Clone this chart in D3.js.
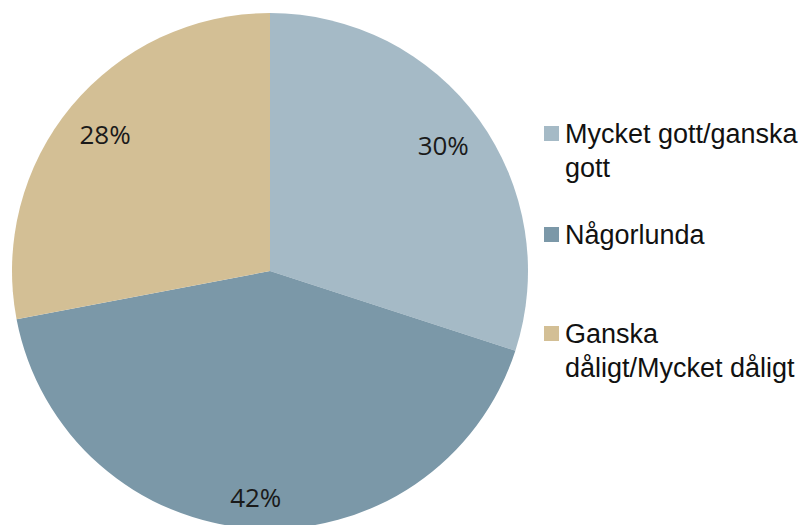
<!DOCTYPE html>
<html>
<head>
<meta charset="utf-8">
<script src="https://cdn.jsdelivr.net/npm/d3@7"></script>
<style>
  html, body { margin: 0; padding: 0; background: #fff; }
  svg { display: block; }
</style>
</head>
<body>
<svg id="chart" width="811" height="525"></svg>
<script>
// Pie of answers, clockwise from 12 o'clock
const categories = ['Mycket gott/ganska gott', 'Någorlunda', 'Ganska dåligt/Mycket dåligt'];
const values = [30, 42, 28];
const legendLines = [['Mycket gott/ganska', 'gott'], ['Någorlunda'], ['Ganska', 'dåligt/Mycket dåligt']];
const colors = ['#a5bac6', '#7b98a8', '#d3bf95'];

const width = 811, height = 525;
const cx = 270, cy = 271, radius = 258;
// how far out each percentage sits (fraction of radius)
const labelFrac = [0.83, 0.88, 0.83];

const svg = d3.select('#chart');

const pie = d3.pie().sort(null).value((d) => d);
const arcs = pie(values);
const arc = d3.arc().innerRadius(0).outerRadius(radius);

const g = svg.append('g').attr('transform', `translate(${cx},${cy})`);

g.selectAll('path.slice')
  .data(arcs)
  .join('path')
  .attr('class', 'slice')
  .attr('d', arc)
  .attr('fill', (d, i) => colors[i]);

g.selectAll('text.pct')
  .data(arcs)
  .join('text')
  .attr('class', 'pct')
  .attr('transform', (d, i) => {
    const r = radius * labelFrac[i];
    const [x, y] = d3.arc().innerRadius(r).outerRadius(r).centroid(d);
    return `translate(${x},${y})`;
  })
  .attr('text-anchor', 'middle')
  .attr('dy', '0.36em')
  .attr('font-family', '"Open Sans", sans-serif')
  .attr('font-size', 26)
  .attr('fill', '#1a1a1a')
  .text((d) => d.data + '%');

// Legend
const legendY = d3.scaleOrdinal().domain(categories).range([143, 244, 343]);
const lineH = 34;

const leg = svg.append('g')
  .attr('font-family', '"Liberation Sans", Arial, sans-serif')
  .attr('font-size', 27)
  .attr('fill', '#111');

categories.forEach((c, i) => {
  const y = legendY(c);
  leg.append('rect')
    .attr('x', 544)
    .attr('y', y - 17)
    .attr('width', 15)
    .attr('height', 15)
    .attr('fill', colors[i]);
  const t = leg.append('text').attr('x', 565).attr('y', y);
  legendLines[i].forEach((line, j) => {
    t.append('tspan')
      .attr('x', 565)
      .attr('dy', j === 0 ? 0 : lineH)
      .text(line);
  });
});
</script>
</body>
</html>
